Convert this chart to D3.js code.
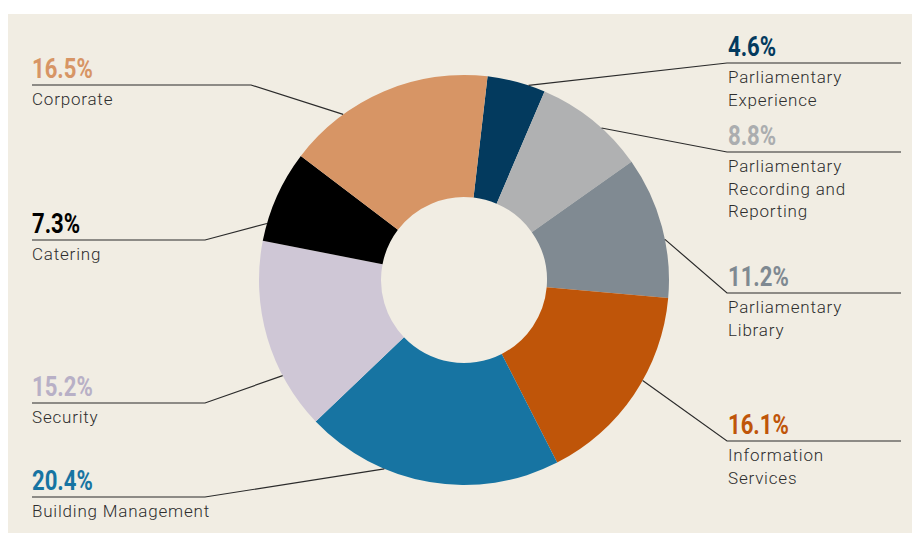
<!DOCTYPE html>
<html>
<head>
<meta charset="utf-8">
<script src="https://cdn.jsdelivr.net/npm/d3@7"></script>
<style>
  html, body { margin: 0; padding: 0; background: #ffffff; }
  svg { display: block; }
  .pct { font-family: Roboto, "DejaVu Sans", sans-serif; font-weight: 700; font-size: 28px; }
  .name { font-family: Roboto, "DejaVu Sans", sans-serif; font-weight: 300; font-size: 17px; fill: #2e2e2e; letter-spacing: 0.8px; }
</style>
</head>
<body>
<script>
// Budget share by business unit, clockwise from the top
const units = ["Parliamentary Experience", "Parliamentary Recording and Reporting", "Parliamentary Library",
               "Information Services", "Building Management", "Security", "Catering", "Corporate"];
const shares = [4.6, 8.8, 11.2, 16.1, 20.4, 15.2, 7.3, 16.5];
const nameLines = [["Parliamentary", "Experience"], ["Parliamentary", "Recording and", "Reporting"],
                   ["Parliamentary", "Library"], ["Information", "Services"], ["Building Management"],
                   ["Security"], ["Catering"], ["Corporate"]];
const colors = ["#033a5e", "#b0b1b2", "#808a92", "#bf5509", "#1774a2", "#cfc7d6", "#000000", "#d79565"];
const pctColors = ["#033a5e", "#abadaf", "#7f8991", "#bf5509", "#1774a2", "#b8b0c6", "#000000", "#d79565"];

// Label placement: side, underline y, knee x, and where along the slice the leader meets the ring
const labelLayout = [
  { side: "right", y: 63,  knee: 727, along: 0.71 },
  { side: "right", y: 152, knee: 727, along: 0.60 },
  { side: "right", y: 293, knee: 727, along: 0.59 },
  { side: "right", y: 441, knee: 727, along: 0.42 },
  { side: "left",  y: 497, knee: 205, along: 0.68 },
  { side: "left",  y: 403, knee: 205, along: 0.29 },
  { side: "left",  y: 240, knee: 205, along: 0.19 },
  { side: "left",  y: 85,  knee: 251, along: 0.28 }
];

const W = 912, H = 535;
const cx = 464, cy = 280, rOuter = 205, rInner = 83;
const startDeg = 6.6;
const pctSqueeze = 0.79; // condensed figure style for the percentages

const svg = d3.select("body").append("svg").attr("width", W).attr("height", H);

svg.append("rect").attr("x", 8).attr("y", 14).attr("width", W - 8).attr("height", 519).attr("fill", "#f1ede3");

const data = units.map((u, i) => ({ unit: u, value: shares[i], color: colors[i], pctColor: pctColors[i],
                                    lines: nameLines[i], layout: labelLayout[i] }));

const start = startDeg * Math.PI / 180;
const pie = d3.pie().sort(null).value(d => d.value).startAngle(start).endAngle(start + 2 * Math.PI);
const arc = d3.arc().innerRadius(rInner).outerRadius(rOuter);
const arcs = pie(data);

const g = svg.append("g").attr("transform", `translate(${cx},${cy})`);
g.selectAll("path.slice").data(arcs).join("path")
  .attr("class", "slice")
  .attr("d", arc)
  .attr("fill", d => d.data.color);

// Leader lines and labels
const leftX = 32, rightX = 728, rightEnd = 901;
arcs.forEach(a => {
  const L = a.data.layout;
  const ang = a.startAngle + (a.endAngle - a.startAngle) * L.along;
  const px = cx + rOuter * Math.sin(ang), py = cy - rOuter * Math.cos(ang);
  let pts;
  if (L.side === "right") pts = [[px, py], [L.knee, L.y], [rightEnd, L.y]];
  else pts = [[px, py], [L.knee, L.y], [leftX, L.y]];
  svg.append("path")
    .attr("d", d3.line()(pts))
    .attr("fill", "none")
    .attr("stroke", "#2b2b2b")
    .attr("stroke-width", 1.2);

  const tx = L.side === "right" ? rightX : leftX;
  svg.append("text").attr("class", "pct")
    .attr("transform", `translate(${tx},${L.y - 7}) scale(${pctSqueeze},1)`)
    .attr("fill", a.data.pctColor)
    .text(d3.format(".1f")(a.data.value) + "%");
  a.data.lines.forEach((ln, k) => {
    svg.append("text").attr("class", "name")
      .attr("x", tx).attr("y", L.y + 20 + k * 22.5)
      .text(ln);
  });
});
</script>
</body>
</html>
